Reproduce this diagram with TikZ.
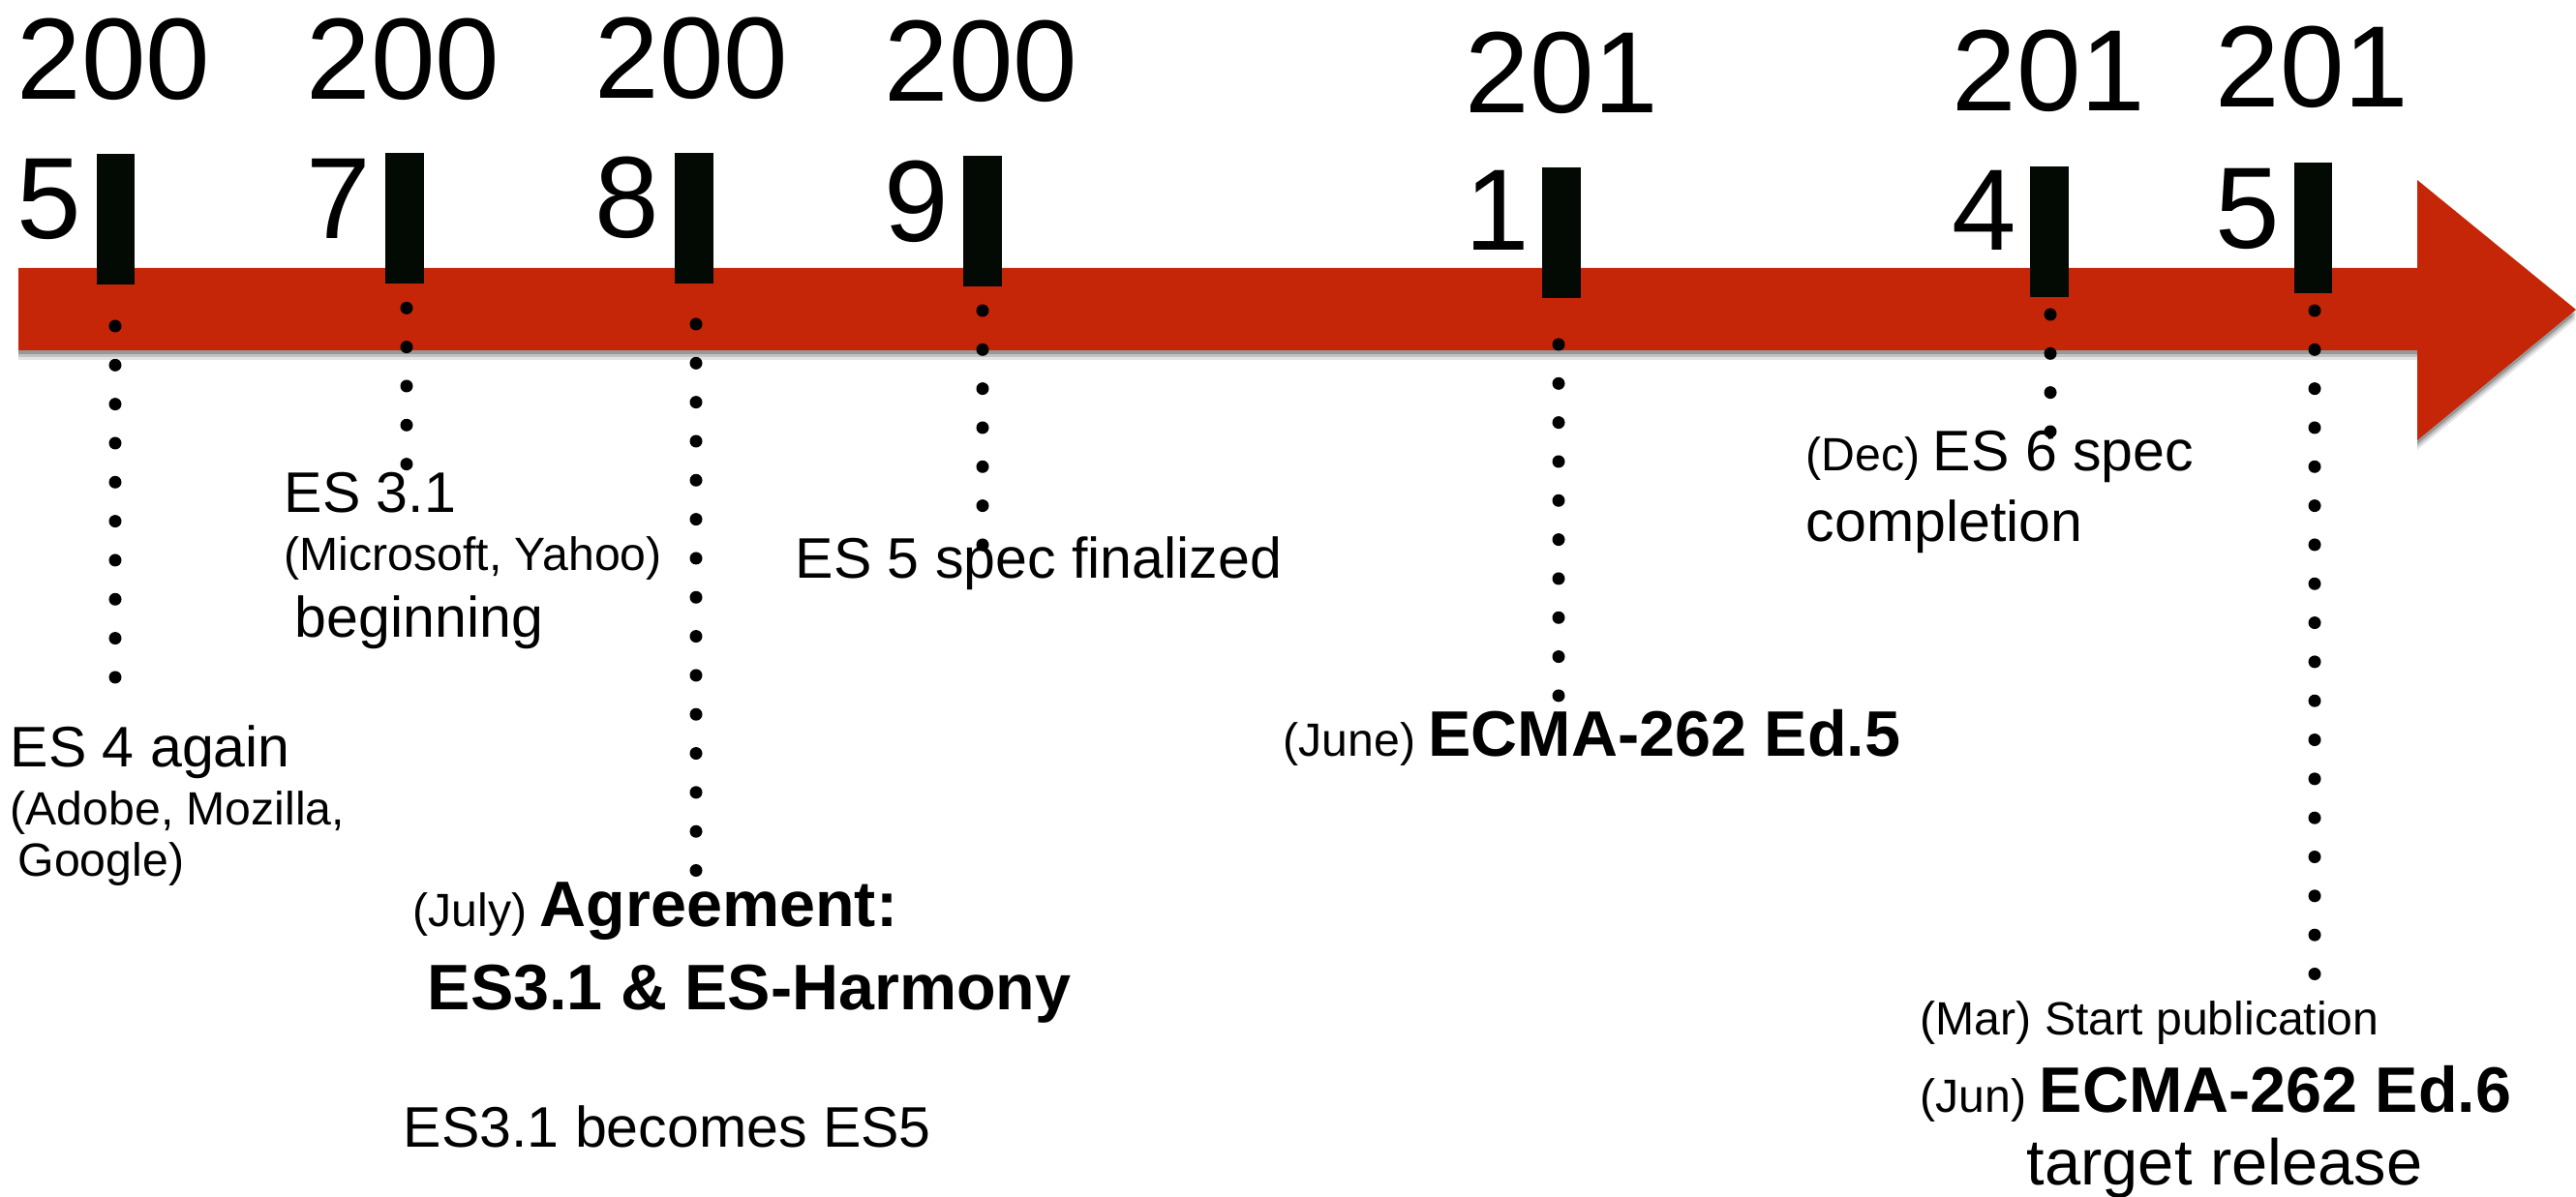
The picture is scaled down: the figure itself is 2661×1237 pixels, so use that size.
\documentclass[tikz,border=0pt]{standalone}
\usepackage{fontspec}
\setmainfont{Liberation Sans}
\definecolor{bandred}{RGB}{197,38,8}
\definecolor{tickc}{RGB}{3,10,3}
\newcommand\smtxt[1]{{\fontsize{13.7}{16}\selectfont #1}}
\newcommand\bdtxt[1]{{\fontsize{18.9}{22}\selectfont\bfseries #1}}
\tikzset{
  yr/.style={anchor=base west, inner sep=0pt, font=\fontsize{34}{40}\selectfont},
  body/.style={anchor=base west, inner sep=0pt, font=\fontsize{16.8}{20}\selectfont},
  small/.style={anchor=base west, inner sep=0pt, font=\fontsize{13.7}{16}\selectfont},
  tickbar/.style={fill=tickc, draw=none},
  dotline/.style={draw=black, line width=0.13cm, line cap=round, dash pattern=on 0pt off 0.403cm}
}
\begin{document}
\begin{tikzpicture}[x=0.01cm, y=-0.01cm]
\useasboundingbox (0,0) rectangle (2661,1237);
% shadow of the arrow
\foreach \o/\op in {10/0.10, 7/0.15, 4/0.22}{
  \fill[black, opacity=\op] (19,277+\o) -- (2497,277+\o) -- (2497,186+\o) -- (2661,320+\o) -- (2497,455+\o) -- (2497,362+\o) -- (19,362+\o) -- cycle;
}
% red arrow
\fill[bandred] (19,277) -- (2497,277) -- (2497,186) -- (2661,320) -- (2497,455) -- (2497,362) -- (19,362) -- cycle;

% dotted lines
\coordinate (d05s) at (119,337);  \coordinate (d05e) at (119,700);
\coordinate (d07s) at (420,278);  \coordinate (d07e) at (420,480);
\coordinate (d08s) at (719,335);  \coordinate (d08e) at (719,900);
\coordinate (d09s) at (1015,321); \coordinate (d09e) at (1015,563);
\coordinate (d11s) at (1610,356); \coordinate (d11e) at (1610,719);
\coordinate (d14s) at (2118,325); \coordinate (d14e) at (2118,446);
\coordinate (d15s) at (2391,321); \coordinate (d15e) at (2391,1007);
\draw[dotline] (d05s) -- (d05e);
\draw[dotline] (d07s) -- (d07e);
\draw[dotline] (d08s) -- (d08e);
\draw[dotline] (d09s) -- (d09e);
\draw[dotline] (d11s) -- (d11e);
\draw[dotline] (d14s) -- (d14e);
\draw[dotline] (d15s) -- (d15e);

% tick bars
\fill[tickbar] (99.5,159) rectangle (139,294);
\fill[tickbar] (398,158) rectangle (438,293);
\fill[tickbar] (697,158) rectangle (737,293);
\fill[tickbar] (995,161) rectangle (1035,296);
\fill[tickbar] (1593,173) rectangle (1633,308);
\fill[tickbar] (2097,172) rectangle (2137,307);
\fill[tickbar] (2370,168) rectangle (2409,303);

% years
\node[yr] (y05a) at (17,103) {200};  \node[yr] (y05b) at (17,247) {5};
\node[yr] (y07a) at (316,103) {200}; \node[yr] (y07b) at (316,247) {7};
\node[yr] (y08a) at (614,102) {200}; \node[yr] (y08b) at (614,246) {8};
\node[yr] (y09a) at (913,105) {200}; \node[yr] (y09b) at (913,250) {9};
\node[yr] (y11a) at (1513,117) {201}; \node[yr] (y11b) at (1513,259) {1};
\node[yr] (y14a) at (2016,115) {201}; \node[yr] (y14b) at (2016,259) {4};
\node[yr] (y15a) at (2288,111) {201}; \node[yr] (y15b) at (2288,257) {5};

% event texts
\node[body] (es31) at (293,530) {ES 3.1};
\node[small] (msy) at (293,590) {(Microsoft, Yahoo)};
\node[body] (beg) at (304,659) {beginning};
\node[body] (es4) at (10,792) {ES 4 again};
\node[small] (adobe) at (10,852) {(Adobe, Mozilla,};
\node[small] (google) at (18,905) {Google)};
\node[small] (july) at (426,957) {(July) \bdtxt{Agreement:}};
\node[anchor=base west, inner sep=0pt] (harm) at (441,1043) {\bdtxt{ES3.1 \& ES-Harmony}};
\node[body] (becomes) at (416,1185) {ES3.1 becomes ES5};
\node[body] (es5) at (821,597) {ES 5 spec finalized};
\node[small] (june) at (1325,781) {(June) \bdtxt{ECMA-262 Ed.5}};
\node[small] (dec) at (1865,487) {(Dec) {\fontsize{16.8}{20}\selectfont ES 6 spec}};
\node[body] (compl) at (1865,560) {completion};
\node[small] (mar) at (1983,1069) {(Mar) Start publication};
\node[small] (jun) at (1983,1149) {(Jun) \bdtxt{ECMA-262 Ed.6}};
\node[anchor=base west, inner sep=0pt, font=\fontsize{19}{22}\selectfont] (target) at (2093,1224) {target release};
\end{tikzpicture}
\end{document}
